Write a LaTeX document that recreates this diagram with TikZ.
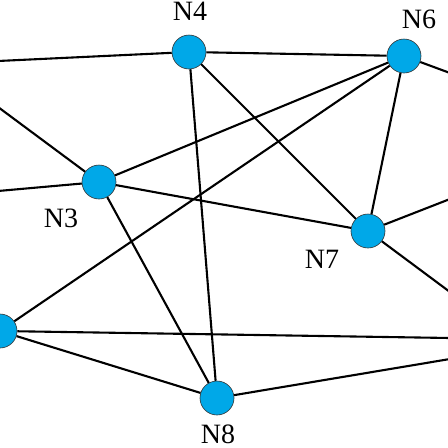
\documentclass[tikz,border=0pt]{standalone}
\usepackage{fontspec}
\setmainfont{Liberation Serif}
\begin{document}
\begin{tikzpicture}[x=1pt,y=-1pt,
  vert/.style={circle,draw=black!80,line width=0.6pt,fill={rgb,255:red,0;green,168;blue,232},minimum size=34pt,inner sep=0pt},
  lbl/.style={inner sep=0pt,font=\fontsize{28}{30}\selectfont},
  link/.style={line width=2.1pt,black}]
\useasboundingbox (0,0) rectangle (448,448);
\clip (0,0) rectangle (448,448);
\node[vert] (n4) at (189,52) {};
\node[vert] (n6) at (404,56) {};
\node[vert] (n3) at (99,182) {};
\node[vert] (n7) at (368,231) {};
\node[vert] (n1) at (0,331) {};
\node[vert] (n8) at (217,398) {};
\coordinate (l1) at (-2,61);
\coordinate (l2) at (-2,107);
\coordinate (l3) at (-2,191);
\coordinate (r1) at (450,73);
\coordinate (r2) at (450,199);
\coordinate (r3) at (450,292);
\coordinate (r4) at (450,338);
\coordinate (r5) at (450,359);
\draw[link] (l1) -- (n4);
\draw[link] (n4) -- (n6);
\draw[link] (n6) -- (r1);
\draw[link] (l2) -- (n3);
\draw[link] (l3) -- (n3);
\draw[link] (n3) -- (n6);
\draw[link] (n3) -- (n7);
\draw[link] (n3) -- (n8);
\draw[link] (n4) -- (n7);
\draw[link] (n4) -- (n8);
\draw[link] (n6) -- (n7);
\draw[link] (n6) -- (n1);
\draw[link] (n7) -- (r2);
\draw[link] (n7) -- (r3);
\draw[link] (n1) -- (r4);
\draw[link] (n1) -- (n8);
\draw[link] (n8) -- (r5);
\node[lbl] (t4) at (190,11.5) {N4};
\node[lbl] (t6) at (419,19) {N6};
\node[lbl] (t3) at (61,218) {N3};
\node[lbl] (t7) at (322,259) {N7};
\node[lbl] (t8) at (218,434.5) {N8};
\end{tikzpicture}
\end{document}
